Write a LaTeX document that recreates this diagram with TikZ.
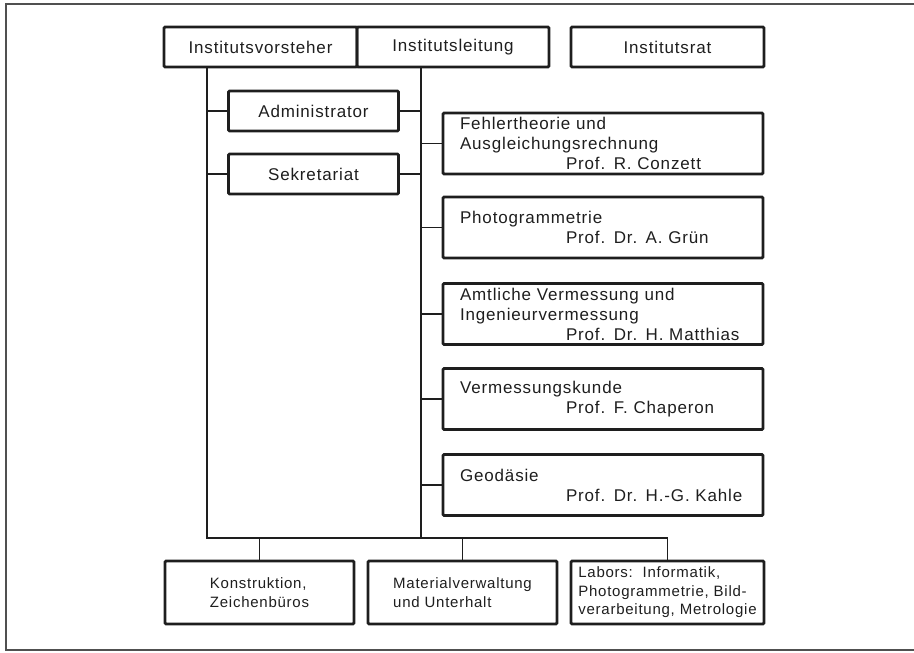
\documentclass[tikz,border=0pt]{standalone}
\usepackage{fontspec}
\setmainfont{Liberation Sans}[LetterSpace=5]
\definecolor{ink}{HTML}{1E1E1E}
\definecolor{framec}{HTML}{505050}
\begin{document}
\begin{tikzpicture}[x=1pt,y=-1pt,
  box/.style={draw=ink, line width=2.8pt, rounded corners=1.2pt, inner sep=0pt, text=ink},
  topbox/.style={box, minimum height=40pt, font=\fontsize{17}{20}\selectfont},
  midbox/.style={box, minimum width=170pt, minimum height=40pt, font=\fontsize{17}{20}\selectfont},
  rbox/.style={box, minimum width=320pt, minimum height=61pt, text width=286pt, align=left, font=\fontsize{17}{20}\selectfont},
  bbox/.style={box, minimum height=63pt, align=left, font=\fontsize{15}{18.5}\selectfont},
  conn/.style={draw=ink, line width=1.8pt},
  framel/.style={draw=framec, line width=1.4pt}]
\useasboundingbox (0,0) rectangle (914,653);
% outer frame
\draw[framel] (914,4) -- (6,4) -- (6,650) -- (914,650);
% top row
\node[topbox, minimum width=193pt] (vorst) at (260.5,47) {Institutsvorsteher};
\node[topbox, minimum width=192pt] (leit) at (453,47) {Institutsleitung};
\node[topbox, minimum width=193pt] (rat) at (667.5,47) {Institutsrat};
% staff
\node[midbox] (admin) at (313.5,111) {Administrator};
\node[midbox] (sekr) at (313.5,174) {Sekretariat};
% chairs
\node[rbox] (fehler) at (603,143.5) {Fehlertheorie und\\Ausgleichungsrechnung\\\hspace*{106pt}Prof. R. Conzett};
\node[rbox] (photo) at (603,227.5) {Photogrammetrie\\\hspace*{106pt}Prof. Dr. A. Grün};
\node[rbox] (amtl) at (603,314) {Amtliche Vermessung und\\Ingenieurvermessung\\\hspace*{106pt}Prof. Dr. H. Matthias};
\node[rbox] (verm) at (603,399) {Vermessungskunde\\\hspace*{106pt}Prof. F. Chaperon};
\node[rbox] (geod) at (603,485) {Geodäsie\\\hspace*{106pt}Prof. Dr. H.-G. Kahle};
% bottom row
\node[bbox, minimum width=189pt] (konst) at (259.5,592.5) {Konstruktion,\\Zeichenbüros};
\node[bbox, minimum width=189pt] (mat) at (462.5,592.5) {Materialverwaltung\\und Unterhalt};
\node[bbox, minimum width=193pt] (labors) at (667.5,592.5) {Labors:\ \ Informatik,\\Photogrammetrie, Bild-\\verarbeitung, Metrologie};
% trunk coordinates
\coordinate (lx) at (207,538);
\coordinate (rx) at (421,538);
% trunk
\draw[conn] (lx |- vorst.south) -- (lx) -- (rx) -- (rx |- leit.south);
\draw[conn] (rx) -- (labors.north |- rx) -- (labors.north);
\draw[conn] (konst.north |- lx) -- (konst.north);
\draw[conn] (mat.north |- lx) -- (mat.north);
% staff branches
\draw[conn] (lx |- admin.west) -- (admin.west);
\draw[conn] (admin.east) -- (rx |- admin.east);
\draw[conn] (lx |- sekr.west) -- (sekr.west);
\draw[conn] (sekr.east) -- (rx |- sekr.east);
% chair branches
\foreach \n in {fehler,photo,amtl,verm,geod}
  \draw[conn] (rx |- \n.west) -- (\n.west);
\end{tikzpicture}
\end{document}
